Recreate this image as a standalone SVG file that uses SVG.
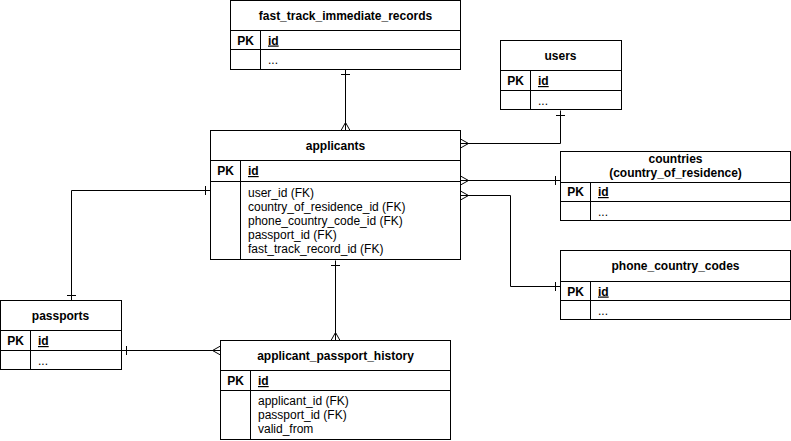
<svg xmlns="http://www.w3.org/2000/svg" width="791" height="441" viewBox="0 0 791 441">
<style>
.box{fill:#fff;stroke:#000;stroke-width:1}
.ln{stroke:#000;stroke-width:1;fill:none}
.t{font-family:"Liberation Sans",Arial,sans-serif;font-size:12px;fill:#000}
.b{font-weight:bold}
.c{text-anchor:middle}
.u{text-decoration:underline}
.con{stroke:#000;stroke-width:1;fill:none}
</style>
<defs>
<marker id="many" markerUnits="userSpaceOnUse" orient="auto-start-reverse" overflow="visible" markerWidth="12" markerHeight="12" refX="0" refY="0">
<path d="M-8,0 L0,-4.5 M-8,0 L0,4.5" stroke="#000" stroke-width="1" fill="none"/>
</marker>
<marker id="one" markerUnits="userSpaceOnUse" orient="auto-start-reverse" overflow="visible" markerWidth="12" markerHeight="12" refX="0" refY="0">
<path d="M-5,-4.5 L-5,4.5" stroke="#000" stroke-width="1" fill="none"/>
</marker>
</defs>

<g id="connectors">
<path class="con" d="M345.5,69.5 V130.5" marker-start="url(#one)" marker-end="url(#many)"/>
<path class="con" d="M560.5,110.5 V143.5 H460.5" marker-start="url(#one)" marker-end="url(#many)"/>
<path class="con" d="M460.5,180.5 H560.5" marker-start="url(#many)" marker-end="url(#one)"/>
<path class="con" d="M460.5,195.5 H510.5 V286.5 H560.5" marker-start="url(#many)" marker-end="url(#one)"/>
<path class="con" d="M210.5,190.5 H71.5 V300.5" marker-start="url(#one)" marker-end="url(#one)"/>
<path class="con" d="M121.5,350.5 H220.5" marker-start="url(#one)" marker-end="url(#many)"/>
<path class="con" d="M335.5,260.5 V340.5" marker-start="url(#one)" marker-end="url(#many)"/>
</g>

<g id="fast_track_immediate_records">
<rect class="box" x="230.5" y="0.5" width="230" height="69"/>
<path class="ln" d="M230.5,30.5 H460.5 M230.5,49.5 H460.5 M260.5,30.5 V69.5"/>
<text class="t b c" x="345.5" y="19.5">fast_track_immediate_records</text>
<text class="t b c" x="245.5" y="44.5">PK</text>
<text class="t b u" x="268" y="44.5">id</text>
<text class="t" x="268" y="64">...</text>
</g>

<g id="users">
<rect class="box" x="500.5" y="40.5" width="121" height="69"/>
<path class="ln" d="M500.5,70.5 H621.5 M500.5,90.5 H621.5 M530.5,70.5 V109.5"/>
<text class="t b c" x="560.5" y="59.5">users</text>
<text class="t b c" x="515.5" y="85">PK</text>
<text class="t b u" x="538" y="85">id</text>
<text class="t" x="538" y="105">...</text>
</g>

<g id="applicants">
<rect class="box" x="210.5" y="130.5" width="250" height="129"/>
<path class="ln" d="M210.5,160.5 H460.5 M210.5,181.5 H460.5 M240.5,160.5 V259.5"/>
<text class="t b c" x="335.5" y="149.5">applicants</text>
<text class="t b c" x="225.5" y="175">PK</text>
<text class="t b u" x="248" y="175">id</text>
<text class="t" x="248" y="197">user_id (FK)</text>
<text class="t" x="248" y="211">country_of_residence_id (FK)</text>
<text class="t" x="248" y="225">phone_country_code_id (FK)</text>
<text class="t" x="248" y="239">passport_id (FK)</text>
<text class="t" x="248" y="253">fast_track_record_id (FK)</text>
</g>

<g id="countries">
<rect class="box" x="560.5" y="151.5" width="230" height="69"/>
<path class="ln" d="M560.5,182.5 H790.5 M560.5,201.5 H790.5 M590.5,182.5 V220.5"/>
<text class="t b c" x="675.5" y="163">countries</text>
<text class="t b c" x="675.5" y="177">(country_of_residence)</text>
<text class="t b c" x="575.5" y="196">PK</text>
<text class="t b u" x="598" y="196">id</text>
<text class="t" x="598" y="216">...</text>
</g>

<g id="phone_country_codes">
<rect class="box" x="560.5" y="250.5" width="230" height="69"/>
<path class="ln" d="M560.5,281.5 H790.5 M560.5,300.5 H790.5 M590.5,281.5 V319.5"/>
<text class="t b c" x="675.5" y="270">phone_country_codes</text>
<text class="t b c" x="575.5" y="295.5">PK</text>
<text class="t b u" x="598" y="295.5">id</text>
<text class="t" x="598" y="315">...</text>
</g>

<g id="passports">
<rect class="box" x="0.5" y="300.5" width="121" height="69"/>
<path class="ln" d="M0.5,330.5 H121.5 M0.5,350.5 H121.5 M30.5,330.5 V369.5"/>
<text class="t b c" x="60.5" y="320">passports</text>
<text class="t b c" x="15.5" y="345">PK</text>
<text class="t b u" x="38" y="345">id</text>
<text class="t" x="38" y="365">...</text>
</g>

<g id="applicant_passport_history">
<rect class="box" x="220.5" y="340.5" width="230" height="99"/>
<path class="ln" d="M220.5,370.5 H450.5 M220.5,390.5 H450.5 M250.5,370.5 V439.5"/>
<text class="t b c" x="335.5" y="360">applicant_passport_history</text>
<text class="t b c" x="235.5" y="385">PK</text>
<text class="t b u" x="258" y="385">id</text>
<text class="t" x="258" y="405">applicant_id (FK)</text>
<text class="t" x="258" y="419">passport_id (FK)</text>
<text class="t" x="258" y="433">valid_from</text>
</g>
</svg>
